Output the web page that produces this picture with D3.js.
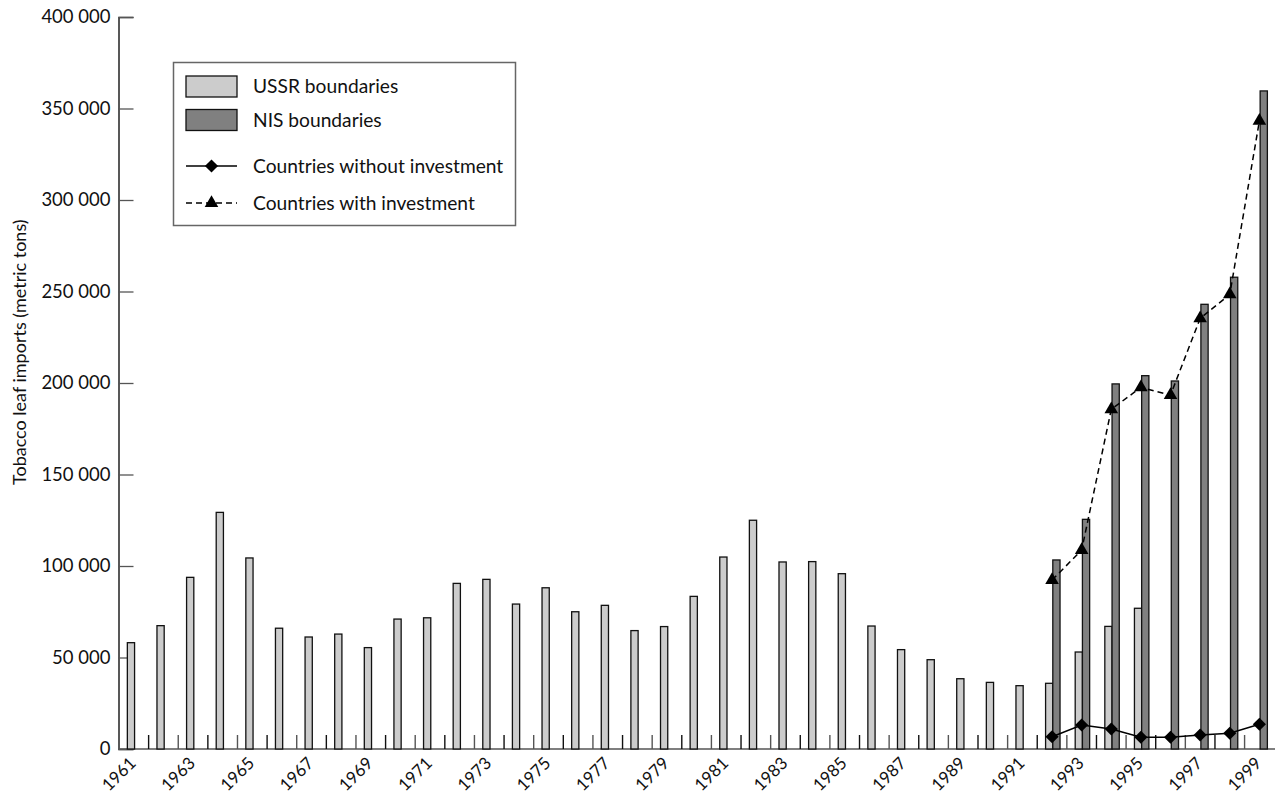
<!DOCTYPE html>
<html>
<head>
<meta charset="utf-8">
<script src="https://cdn.jsdelivr.net/npm/d3@7/dist/d3.min.js"></script>
<style>
  html, body { margin: 0; padding: 0; background: #fff; }
  svg { display: block; font-family: Lato, "Open Sans", sans-serif; }
</style>
</head>
<body>
<svg id="chart" width="1275" height="797"></svg>
<script>
const years = d3.range(1961, 2000);
const ussrValues = [58100, 67400, 93800, 129300, 104400, 66000, 61200, 62800, 55400, 71000,
  71700, 90500, 92700, 79200, 88100, 75000, 78500, 64700, 66900, 83400,
  104900, 125000, 102200, 102400, 95800, 67200, 54300, 48800, 38400, 36400,
  34600, 35900, 53000, 67000, 76900, 0, 0, 0, 0];
const nisYears = [1992, 1993, 1994, 1995, 1996, 1997, 1998, 1999];
const nisValues = [103300, 125500, 199500, 204000, 201100, 243000, 257800, 359600];
const withoutInvestment = [6700, 13100, 10900, 6400, 6400, 7650, 8600, 13500];
const withInvestment = [92300, 108700, 185600, 197600, 193400, 235300, 248400, 343200];
const yTicks = [0, 50000, 100000, 150000, 200000, 250000, 300000, 350000, 400000];
const legendItems = ["USSR boundaries", "NIS boundaries", "Countries without investment", "Countries with investment"];
const yLabel = "Tobacco leaf imports (metric tons)";

const svg = d3.select("#chart");
const mLeft = 118.5, mRight = 1274.2, mTop = 17, mBottom = 749;

const x = d3.scaleBand().domain(years).range([119, mRight]).padding(0);
const sub = d3.scaleBand().domain(["ussr", "nis"]).range([0, x.bandwidth()]).paddingInner(0).paddingOuter(1.05).align(0.55);
const y = d3.scaleLinear().domain([0, 400000]).range([mBottom, mTop]);

const fmt = v => v === 0 ? "0" : d3.format(",")(v).replace(/,/g, " ");

// y axis
const yAxis = d3.axisRight(y).tickValues(yTicks).tickSize(15).tickFormat("");
const gy = svg.append("g").attr("transform", `translate(${mLeft},0)`).call(yAxis);
gy.select(".domain").attr("stroke", "#222").attr("stroke-width", 1.5);
gy.selectAll(".tick line").attr("stroke", "#555").attr("stroke-width", 1.3);
svg.append("g").selectAll("text").data(yTicks).join("text")
  .attr("x", 110.5).attr("y", d => y(d)).attr("dy", "0.35em")
  .attr("text-anchor", "end").attr("font-size", 18.5).attr("fill", "#111")
  .text(fmt);

// y label
svg.append("text").attr("transform", "translate(26,485) rotate(-90)")
  .attr("font-size", 18).attr("fill", "#111").text(yLabel);

// x axis baseline
svg.append("line").attr("x1", mLeft).attr("x2", 1275).attr("y1", mBottom).attr("y2", mBottom)
  .attr("stroke", "#555").attr("stroke-width", 1.5);
// category ticks
svg.append("g").selectAll("line").data(years.slice(1)).join("line")
  .attr("x1", d => x(d)).attr("x2", d => x(d)).attr("y1", mBottom - 14).attr("y2", mBottom)
  .attr("stroke", (d, i) => i % 2 ? "#555" : "#111").attr("stroke-width", 1.4);

// bars
const ussrData = years.map((yr, i) => ({ yr, v: ussrValues[i] })).filter(d => d.v > 0);
svg.append("g").selectAll("rect").data(ussrData).join("rect")
  .attr("x", d => x(d.yr) + sub("ussr")).attr("width", sub.bandwidth())
  .attr("y", d => y(d.v)).attr("height", d => y(0) - y(d.v))
  .attr("fill", "#cccccc").attr("stroke", "#111").attr("stroke-width", 1.3);
const nisData = nisYears.map((yr, i) => ({ yr, v: nisValues[i] }));
svg.append("g").selectAll("rect").data(nisData).join("rect")
  .attr("x", d => x(d.yr) + sub("nis")).attr("width", sub.bandwidth())
  .attr("y", d => y(d.v)).attr("height", d => y(0) - y(d.v))
  .attr("fill", "#808080").attr("stroke", "#111").attr("stroke-width", 1.3);

// lines
const cx = yr => x(yr) + x.bandwidth() / 2;
const lineGen = d3.line().x(d => cx(d.yr)).y(d => y(d.v));
const withoutData = nisYears.map((yr, i) => ({ yr, v: withoutInvestment[i] }));
const withData = nisYears.map((yr, i) => ({ yr, v: withInvestment[i] }));
svg.append("path").datum(withData).attr("d", lineGen).attr("fill", "none")
  .attr("stroke", "#000").attr("stroke-width", 1.5).attr("stroke-dasharray", "6,4");
svg.append("path").datum(withoutData).attr("d", lineGen).attr("fill", "none")
  .attr("stroke", "#000").attr("stroke-width", 1.5);
const diamond = d3.symbol().type(d3.symbolDiamond2).size(110);
const triangle = d3.symbol().type(d3.symbolTriangle).size(80);
svg.append("g").selectAll("path").data(withoutData).join("path")
  .attr("transform", d => `translate(${cx(d.yr)},${y(d.v)})`).attr("d", diamond).attr("fill", "#000");
svg.append("g").selectAll("path").data(withData).join("path")
  .attr("transform", d => `translate(${cx(d.yr)},${y(d.v)})`).attr("d", triangle).attr("fill", "#000");

// x labels
const labelYears = years.filter(d => d % 2 === 1);
svg.append("g").selectAll("text").data(labelYears).join("text")
  .attr("transform", d => `translate(${cx(d) - 1},${mBottom + 11}) rotate(-45)`)
  .attr("text-anchor", "end").attr("dy", "0.35em").attr("font-size", 17).attr("fill", "#111")
  .text(d => d);

// legend
const lg = svg.append("g");
lg.append("rect").attr("x", 173.5).attr("y", 62.5).attr("width", 342).attr("height", 163)
  .attr("fill", "#fff").attr("stroke", "#666").attr("stroke-width", 1.5);
const rowY = [86.5, 120, 166, 203];
lg.append("rect").attr("x", 186).attr("y", 76).attr("width", 51).attr("height", 21)
  .attr("fill", "#cccccc").attr("stroke", "#111").attr("stroke-width", 1.3);
lg.append("rect").attr("x", 186).attr("y", 109.5).attr("width", 51).attr("height", 21)
  .attr("fill", "#808080").attr("stroke", "#111").attr("stroke-width", 1.3);
lg.append("line").attr("x1", 186).attr("x2", 237).attr("y1", rowY[2]).attr("y2", rowY[2])
  .attr("stroke", "#000").attr("stroke-width", 1.5);
lg.append("path").attr("transform", `translate(211.5,${rowY[2]})`).attr("d", diamond).attr("fill", "#000");
lg.append("line").attr("x1", 186).attr("x2", 237).attr("y1", rowY[3]).attr("y2", rowY[3])
  .attr("stroke", "#000").attr("stroke-width", 1.5).attr("stroke-dasharray", "6,4");
lg.append("path").attr("transform", `translate(211.5,${rowY[3]})`).attr("d", triangle).attr("fill", "#000");
lg.selectAll("text.leg").data(legendItems).join("text").attr("class", "leg")
  .attr("x", 253).attr("y", (d, i) => rowY[i]).attr("dy", "0.36em")
  .attr("font-size", 19.2).attr("fill", "#111").text(d => d);
</script>
</body>
</html>
